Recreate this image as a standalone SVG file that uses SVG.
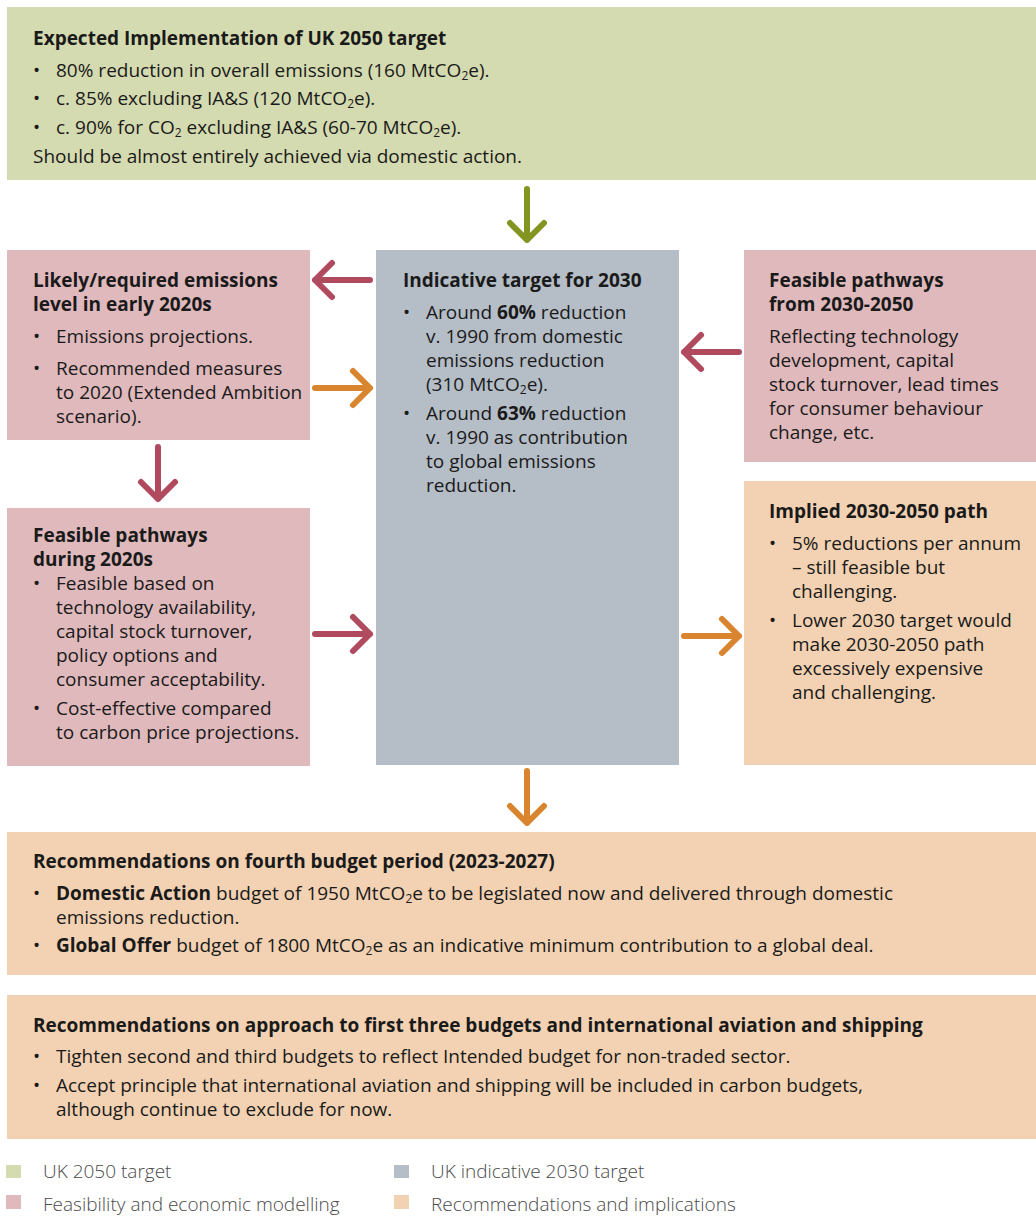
<svg xmlns="http://www.w3.org/2000/svg" width="1036" height="1216" viewBox="0 0 1036 1216">
<style>
text{font-family:"Open Sans","Noto Sans","Liberation Sans",sans-serif;font-size:19px;fill:#1a1a1a}
.t{font-weight:bold}
.b{font-weight:bold}
.s{font-size:12px}
.lg{font-size:19px;fill:#4a4a4a;font-weight:300}
.green{fill:#d5dbb0}.pink{fill:#dfb9bc}.grey{fill:#b5bdc7}.orange{fill:#f2d2b2}
.ag{stroke:#849421}.ar{stroke:#b04a5f}.ao{stroke:#d9842f}
.arr{fill:none;stroke-width:6;stroke-linecap:round;stroke-linejoin:round}
</style>
<rect width="1036" height="1216" fill="#fff"/>
<g id="uk2050">
<rect class="green" x="7" y="7" width="1029" height="173"/>
<text class="t" x="33" y="45">Expected Implementation of UK 2050 target</text>
<text x="33" y="77">•</text><text x="56" y="77">80% reduction in overall emissions (160 MtCO<tspan class="s" dy="3">2</tspan><tspan dy="-3">e).</tspan></text>
<text x="33" y="105">•</text><text x="56" y="105">c. 85% excluding IA&amp;S (120 MtCO<tspan class="s" dy="3">2</tspan><tspan dy="-3">e).</tspan></text>
<text x="33" y="134">•</text><text x="56" y="134">c. 90% for CO<tspan class="s" dy="3">2</tspan><tspan dy="-3"> excluding IA&amp;S (60-70 MtCO</tspan><tspan class="s" dy="3">2</tspan><tspan dy="-3">e).</tspan></text>
<text x="33" y="163">Should be almost entirely achieved via domestic action.</text>
</g>
<g id="early2020s">
<rect class="pink" x="7" y="250" width="303" height="190"/>
<text class="t" x="33" y="287">Likely/required emissions</text>
<text class="t" x="33" y="311">level in early 2020s</text>
<text x="33" y="343">•</text><text x="56" y="343">Emissions projections.</text>
<text x="33" y="375">•</text><text x="56" y="375">Recommended measures</text>
<text x="56" y="399">to 2020 (Extended Ambition</text>
<text x="56" y="423">scenario).</text>
</g>
<g id="target2030">
<rect class="grey" x="376" y="250" width="303" height="515"/>
<text class="t" x="403" y="287">Indicative target for 2030</text>
<text x="403" y="319">•</text><text x="426" y="319">Around <tspan class="b">60%</tspan> reduction</text>
<text x="426" y="343">v. 1990 from domestic</text>
<text x="426" y="367">emissions reduction</text>
<text x="426" y="391">(310 MtCO<tspan class="s" dy="3">2</tspan><tspan dy="-3">e).</tspan></text>
<text x="403" y="420">•</text><text x="426" y="420">Around <tspan class="b">63%</tspan> reduction</text>
<text x="426" y="444">v. 1990 as contribution</text>
<text x="426" y="468">to global emissions</text>
<text x="426" y="492">reduction.</text>
</g>
<g id="pathways2030">
<rect class="pink" x="744" y="250" width="292" height="212"/>
<text class="t" x="769" y="287">Feasible pathways</text>
<text class="t" x="769" y="311">from 2030-2050</text>
<text x="769" y="343">Reflecting technology</text>
<text x="769" y="367">development, capital</text>
<text x="769" y="391">stock turnover, lead times</text>
<text x="769" y="415">for consumer behaviour</text>
<text x="769" y="439">change, etc.</text>
</g>
<g id="pathways2020s">
<rect class="pink" x="7" y="508" width="303" height="258"/>
<text class="t" x="33" y="542">Feasible pathways</text>
<text class="t" x="33" y="566">during 2020s</text>
<text x="33" y="590">•</text><text x="56" y="590">Feasible based on</text>
<text x="56" y="614">technology availability,</text>
<text x="56" y="638">capital stock turnover,</text>
<text x="56" y="662">policy options and</text>
<text x="56" y="686">consumer acceptability.</text>
<text x="33" y="715">•</text><text x="56" y="715">Cost-effective compared</text>
<text x="56" y="739">to carbon price projections.</text>
</g>
<g id="implied">
<rect class="orange" x="744" y="481" width="292" height="284"/>
<text class="t" x="769" y="518">Implied 2030-2050 path</text>
<text x="769" y="550">•</text><text x="792" y="550">5% reductions per annum</text>
<text x="792" y="574">– still feasible but</text>
<text x="792" y="598">challenging.</text>
<text x="769" y="627">•</text><text x="792" y="627">Lower 2030 target would</text>
<text x="792" y="651">make 2030-2050 path</text>
<text x="792" y="675">excessively expensive</text>
<text x="792" y="699">and challenging.</text>
</g>
<g id="fourth">
<rect class="orange" x="7" y="832" width="1029" height="143"/>
<text class="t" x="33" y="868">Recommendations on fourth budget period (2023-2027)</text>
<text x="33" y="900">•</text><text x="56" y="900"><tspan class="b">Domestic Action</tspan> budget of 1950 MtCO<tspan class="s" dy="3">2</tspan><tspan dy="-3">e to be legislated now and delivered through domestic</tspan></text>
<text x="56" y="924">emissions reduction.</text>
<text x="33" y="952">•</text><text x="56" y="952"><tspan class="b">Global Offer</tspan> budget of 1800 MtCO<tspan class="s" dy="3">2</tspan><tspan dy="-3">e as an indicative minimum contribution to a global deal.</tspan></text>
</g>
<g id="firstthree">
<rect class="orange" x="7" y="995" width="1029" height="144"/>
<text class="t" x="33" y="1032">Recommendations on approach to first three budgets and international aviation and shipping</text>
<text x="33" y="1063">•</text><text x="56" y="1063">Tighten second and third budgets to reflect Intended budget for non-traded sector.</text>
<text x="33" y="1092">•</text><text x="56" y="1092">Accept principle that international aviation and shipping will be included in carbon budgets,</text>
<text x="56" y="1116">although continue to exclude for now.</text>
</g>
<g id="connectors">
<path class="arr ag" d="M527 189V240M510 223L527 240L544 223"/>
<path class="arr ar" d="M370 280H315M332 263L315 280L332 297"/>
<path class="arr ao" d="M315 388H370M353 371L370 388L353 405"/>
<path class="arr ar" d="M739 352H684M701 335L684 352L701 369"/>
<path class="arr ar" d="M158 447V499M141 482L158 499L175 482"/>
<path class="arr ar" d="M315 634H370M353 617L370 634L353 651"/>
<path class="arr ao" d="M684 636H739M722 619L739 636L722 653"/>
<path class="arr ao" d="M527 771V823M510 806L527 823L544 806"/>
</g>
<g id="legend">
<rect class="green" x="6" y="1165" width="15" height="13"/>
<text class="lg" x="43" y="1178">UK 2050 target</text>
<rect class="grey" x="394" y="1165" width="15" height="13"/>
<text class="lg" x="431" y="1178">UK indicative 2030 target</text>
<rect class="pink" x="6" y="1195" width="15" height="14"/>
<text class="lg" x="43" y="1211">Feasibility and economic modelling</text>
<rect class="orange" x="394" y="1195" width="15" height="14"/>
<text class="lg" x="431" y="1211">Recommendations and implications</text>
</g>
</svg>
